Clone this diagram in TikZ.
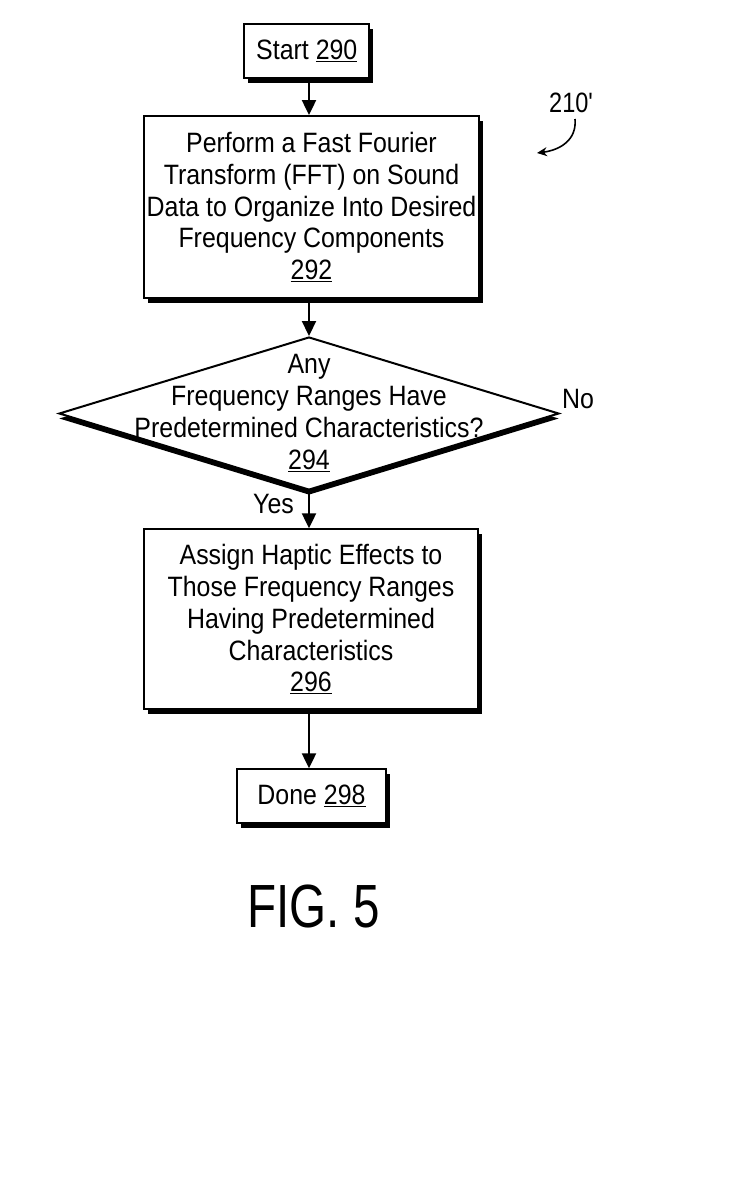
\documentclass[tikz,border=0pt]{standalone}
\usepackage{fontspec}
\setmainfont{Liberation Sans}[FakeStretch=0.89]
\newfontfamily\figfont{Liberation Sans}[FakeStretch=0.78]
\newfontfamily\narrowfont{Liberation Sans}[FakeStretch=0.84]
\usetikzlibrary{arrows.meta,shapes.geometric,shadows}
\begin{document}
\begin{tikzpicture}[x=1pt,y=-1pt,
  txt/.style={align=center,font=\fontsize{28}{31.7}\selectfont,inner sep=0pt},
  box/.style={txt,draw,line width=2pt,fill=white,rectangle,
    drop shadow={shadow xshift=4pt,shadow yshift=-5pt,fill=black,opacity=1}},
  decbox/.style={draw,line width=2pt,fill=white,diamond,inner sep=0pt,
    drop shadow={shadow xshift=0pt,shadow yshift=-5pt,fill=black,opacity=1}},
  arr/.style={line width=2.2pt,-{Triangle[length=15pt,width=14pt]}},
  thinarr/.style={line width=1.6pt,-{Stealth[length=10pt,width=9pt]}},
  lbl/.style={font=\fontsize{28}{31.7}\selectfont,inner sep=0pt}
]
\useasboundingbox (0,0) rectangle (731,1187);

\node[box,minimum width=125pt,minimum height=54pt] (start) at (306.8,51.3) {Start \underline{290}};

\node[box,minimum width=334.4pt,minimum height=182.3pt] (fft) at (311.5,207.2)
  {Perform a Fast Fourier\\Transform (FFT) on Sound\\Data to Organize Into Desired\\Frequency Components\\\underline{292}};

\node[decbox,minimum width=500pt,minimum height=153pt] (dec) at (309,413.5) {};
\node[txt] (dectext) at (309,413)
  {Any\\Frequency Ranges Have\\Predetermined Characteristics?\\\underline{294}};

\node[box,minimum width=333.4pt,minimum height=180pt] (assign) at (311,619.3)
  {Assign Haptic Effects to\\Those Frequency Ranges\\Having Predetermined\\Characteristics\\\underline{296}};

\node[box,minimum width=149pt,minimum height=53.4pt] (done) at (311.5,796) {Done \underline{298}};

\node[lbl,anchor=base west] (no) at (562,408) {No};
\node[lbl,anchor=base east] (yes) at (294,513) {Yes};

\node[lbl,anchor=base west,font=\narrowfont\fontsize{28}{31.7}\selectfont] (ref) at (549,112) {210\textquotesingle};
\coordinate (c1) at (575,119);
\coordinate (c2) at (537,153);
\draw[thinarr] (c1) .. controls (577,140) and (560,150) .. (c2);

\node[anchor=base,inner sep=0pt,font=\figfont\fontsize{61}{70}\selectfont] (fig) at (313.5,927) {FIG. 5};

\draw[arr] (start.south -| dec.north) -- (fft.north -| dec.north);
\draw[arr] (fft.south -| dec.north) -- (dec.north);
\draw[arr] (dec.south) -- (assign.north -| dec.south);
\draw[arr] (assign.south -| dec.south) -- (done.north -| dec.south);
\end{tikzpicture}
\end{document}
